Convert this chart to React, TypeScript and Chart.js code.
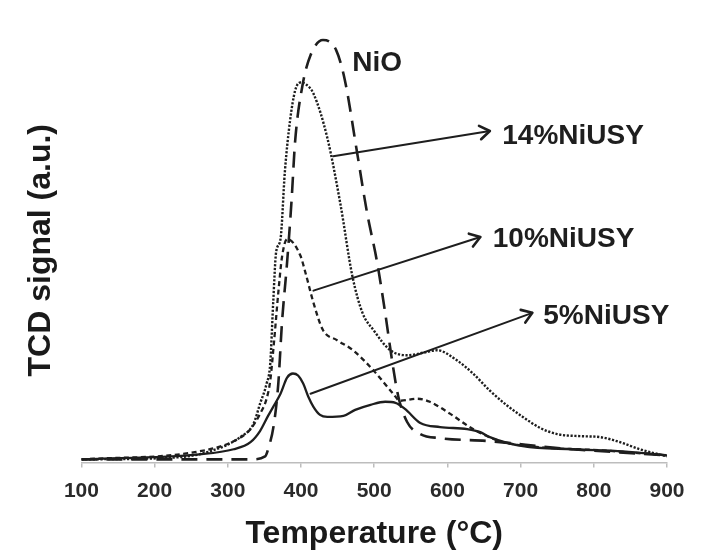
import React, { useEffect, useRef } from 'react';
import { Chart, registerables } from 'chart.js';

Chart.register(...registerables);

// ---- Data (temperature °C, TCD signal a.u.) ----
const nioT = [100, 331, 351, 355, 363, 369, 374, 381, 387, 392, 402, 413, 430, 448, 460, 477, 490, 504, 515, 525, 533, 545, 563, 590, 658, 754, 900];
const nioV = [3, 3, 6, 13, 38, 78, 138, 198, 258, 318, 373, 403, 418, 408, 378, 305, 248, 198, 148, 98, 65, 40, 28, 24, 21, 14, 7];

const ni14T = [100, 231, 276, 317, 335, 344, 353, 358, 362, 366, 372, 378, 385, 392, 399, 407, 417, 436, 454, 470, 484, 499, 522, 545, 570, 586, 613, 635, 658, 682, 703, 727, 750, 781, 809, 836, 863, 900];
const ni14V = [3, 5, 11, 25, 38, 58, 78, 98, 158, 208, 221, 288, 338, 368, 376, 374, 365, 321, 255, 185, 148, 131, 111, 106, 109, 111, 101, 88, 71, 56, 45, 34, 28, 26, 25, 20, 13, 6];

const ni10T = [100, 253, 308, 331, 344, 353, 358, 363, 369, 374, 381, 399, 406, 417, 430, 449, 471, 499, 526, 535, 559, 576, 604, 635, 672, 727, 809, 900];
const ni10V = [3, 10, 21, 33, 48, 63, 81, 118, 168, 203, 221, 205, 188, 158, 131, 121, 111, 91, 68, 61, 63, 60, 48, 33, 21, 15, 12, 7];

const ni5T = [100, 262, 308, 331, 344, 355, 362, 372, 381, 389, 396, 403, 410, 417, 426, 436, 458, 474, 495, 515, 529, 542, 563, 590, 627, 645, 658, 703, 772, 840, 900];
const ni5V = [3, 8, 13, 20, 31, 46, 55, 68, 84, 88, 86, 78, 65, 55, 47, 45, 46, 52, 57, 60, 59, 53, 39, 35, 33, 30, 25, 16, 13, 11, 7];

const xTicks = [100, 200, 300, 400, 500, 600, 700, 800, 900];

// annotation labels and arrows (in data coordinates)
const labelTexts = ['NiO', '14%NiUSY', '10%NiUSY', '5%NiUSY'];
const labelT = [470, 675, 662, 731];
const labelV = [395, 323, 221, 145];
const arrowFromT = [444, 417, 413];
const arrowFromV = [303, 170, 68];
const arrowToT = [658, 645, 716];
const arrowToV = [328, 223, 148];

const FONT = "'Liberation Sans', Arial, Helvetica, sans-serif";
const INK = '#1e1e1e';

const annotationPlugin = {
  id: 'annotations',
  afterDatasetsDraw(chart: any) {
    const { ctx, scales } = chart;
    const xs = scales.x;
    const ys = scales.y;
    ctx.save();
    ctx.strokeStyle = INK;
    ctx.fillStyle = INK;
    ctx.lineCap = 'round';
    ctx.lineJoin = 'round';
    for (let i = 0; i < arrowFromT.length; i++) {
      const x0 = xs.getPixelForValue(arrowFromT[i]);
      const y0 = ys.getPixelForValue(arrowFromV[i]);
      const x1 = xs.getPixelForValue(arrowToT[i]);
      const y1 = ys.getPixelForValue(arrowToV[i]);
      ctx.lineWidth = 2;
      ctx.setLineDash([]);
      ctx.beginPath();
      ctx.moveTo(x0, y0);
      ctx.lineTo(x1, y1);
      ctx.stroke();
      const ang = Math.atan2(y1 - y0, x1 - x0);
      const len = 12;
      const spread = 0.6;
      ctx.lineWidth = 2.6;
      ctx.beginPath();
      ctx.moveTo(x1 - len * Math.cos(ang - spread), y1 - len * Math.sin(ang - spread));
      ctx.lineTo(x1, y1);
      ctx.lineTo(x1 - len * Math.cos(ang + spread), y1 - len * Math.sin(ang + spread));
      ctx.stroke();
    }
    ctx.font = `bold 28px ${FONT}`;
    ctx.textAlign = 'left';
    ctx.textBaseline = 'middle';
    for (let i = 0; i < labelTexts.length; i++) {
      ctx.fillText(labelTexts[i], xs.getPixelForValue(labelT[i]), ys.getPixelForValue(labelV[i]));
    }
    ctx.restore();
  },
};

const pts = (t: number[], v: number[]) => t.map((x, i) => ({ x, y: v[i] }));

export default function App() {
  const ref = useRef<HTMLCanvasElement>(null);
  useEffect(() => {
    if (!ref.current) return;
    const common = {
      pointRadius: 0,
      fill: false,
      cubicInterpolationMode: 'monotone' as const,
      borderColor: INK,
      borderCapStyle: 'butt' as const,
    };
    const chart = new Chart(ref.current, {
      type: 'line',
      data: {
        datasets: [
          { ...common, label: 'NiO', data: pts(nioT, nioV), borderWidth: 2.6, borderDash: [16, 9] },
          { ...common, label: '14%NiUSY', data: pts(ni14T, ni14V), borderWidth: 2.4, borderDash: [2.2, 1.6] },
          { ...common, label: '10%NiUSY', data: pts(ni10T, ni10V), borderWidth: 2.3, borderDash: [5, 3.5] },
          { ...common, label: '5%NiUSY', data: pts(ni5T, ni5V), borderWidth: 2.3 },
        ],
      },
      options: {
        animation: false,
        responsive: false,
        maintainAspectRatio: false,
        layout: { padding: { top: 38, right: 46, bottom: 0, left: 0 } },
        plugins: { legend: { display: false }, tooltip: { enabled: false } },
        scales: {
          x: {
            type: 'linear',
            min: 100,
            max: 900,
            afterBuildTicks: (axis: any) => {
              axis.ticks = xTicks.map((v) => ({ value: v }));
            },
            ticks: {
              color: '#2a2a2a',
              padding: 11,
              font: { family: FONT, size: 21, weight: 'bold' },
            },
            grid: { drawOnChartArea: false, drawTicks: true, tickLength: 5, color: '#bdbdbd', lineWidth: 1.5 },
            border: { display: true, color: '#bdbdbd', width: 1.5 },
            title: {
              display: true,
              text: 'Temperature (°C)',
              color: '#1a1a1a',
              font: { family: FONT, size: 32, weight: 'bold' },
              padding: { top: 0, bottom: 0 },
            },
          },
          y: {
            type: 'linear',
            min: 0,
            max: 420,
            ticks: { display: false },
            grid: { display: false, drawTicks: false, tickLength: 0 },
            border: { display: false },
            title: {
              display: true,
              text: 'TCD signal (a.u.)',
              color: '#1a1a1a',
              font: { family: FONT, size: 32, weight: 'bold' },
              padding: { top: 22, bottom: 21 },
            },
          },
        },
      },
      plugins: [annotationPlugin],
    });
    return () => chart.destroy();
  }, []);
  return (
    <div style={{ position: 'fixed', left: 0, top: 0, width: 713, height: 553, background: '#fff' }}>
      <canvas ref={ref} width={713} height={553} style={{ display: 'block', width: 713, height: 553 }} />
    </div>
  );
}
